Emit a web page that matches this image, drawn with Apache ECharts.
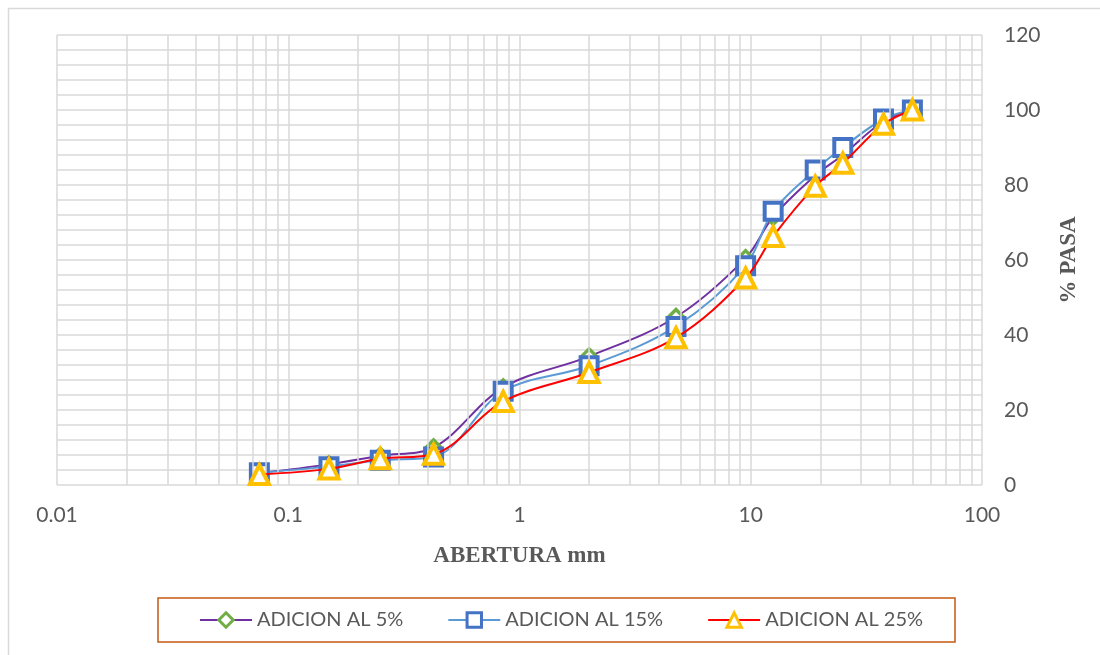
<!DOCTYPE html>
<html><head><meta charset="utf-8">
<script src="https://cdn.jsdelivr.net/npm/echarts@6/dist/echarts.min.js"></script>
<style>html,body{margin:0;padding:0;background:#fff}#c{width:1100px;height:655px}</style>
</head><body><div id="c"></div>
<script>
const sizes = [0.075, 0.15, 0.25, 0.425, 0.85, 2, 4.75, 9.5, 12.5, 19, 25, 37.5, 50];
const add5  = [3.2, 5.5, 7.8, 10, 26, 34.3, 44.8, 60.5, 71.5, 82.5, 88, 97, 100];
const add15 = [3.3, 4.9, 6.6, 7.5, 25, 31.8, 42.3, 58.5, 73, 84, 90, 97.6, 100];
const add25 = [2.8, 4.3, 7, 8.2, 22.3, 30, 39.3, 55.2, 66.3, 79.7, 85.8, 96.2, 100];
const seriesNames = ['ADICION AL 5%', 'ADICION AL 15%', 'ADICION AL 25%'];
const minorX = [];
[0.01, 0.1, 1, 10].forEach(d => { for (let k = 2; k <= 9; k++) minorX.push(+(d * k).toPrecision(3)); });

const pairs = ys => sizes.map((x, i) => [x, ys[i]]);
const gridColor = '#d9d9d9';
const txt = '#595959';

const chart = echarts.init(document.getElementById('c'), null, {renderer: 'canvas'});
chart.setOption({
  animation: false,
  backgroundColor: '#fff',
  graphic: [{type: 'rect', left: 6, top: 6, shape: {x: 0, y: 0, width: 1200, height: 700},
    style: {fill: 'none', stroke: '#d9d9d9', lineWidth: 1.5}, silent: true, z: -10}],
  grid: {left: 57, right: 118, top: 35, bottom: 170},
  legend: {
    data: seriesNames, left: 158, top: 598,
    borderColor: '#c55a11', borderWidth: 1.5, borderRadius: 0,
    padding: [12, 32, 12, 41], itemGap: 44, itemWidth: 52, itemHeight: 18,
    itemStyle: {borderWidth: 3},
    textStyle: {fontFamily: 'Lato', fontSize: 20, color: txt, padding: [0, 0, 0, 0]}
  },
  xAxis: {
    type: 'log', logBase: 10, min: 0.01, max: 100,
    name: 'ABERTURA mm', nameLocation: 'middle', nameGap: 60,
    nameTextStyle: {fontFamily: 'Liberation Serif', fontWeight: 'bold', fontSize: 23, color: txt},
    axisLine: {show: false}, axisTick: {show: false},
    axisLabel: {fontFamily: 'Lato', fontSize: 21, color: txt, margin: 20,
      formatter: v => String(+Number(v).toPrecision(3))},
    splitLine: {show: true, lineStyle: {color: gridColor, width: 1.5}}
  },
  yAxis: {
    type: 'value', position: 'right', min: 0, max: 120, interval: 4,
    name: '% PASA', nameLocation: 'middle', nameGap: 76, nameRotate: 90,
    nameTextStyle: {fontFamily: 'Liberation Serif', fontWeight: 'bold', fontSize: 23, color: txt},
    axisLine: {show: false}, axisTick: {show: false},
    axisLabel: {fontFamily: 'Lato', fontSize: 21, color: txt, margin: 22,
      formatter: v => (v % 20 === 0 ? String(v) : '')},
    splitLine: {show: true, lineStyle: {color: gridColor, width: 1.5}}
  },
  series: [
    {type: 'line', name: '_grid', data: [], z: 0, silent: true,
      markLine: {silent: true, symbol: 'none', label: {show: false}, animation: false,
        lineStyle: {color: gridColor, width: 1.5, type: 'solid'},
        emphasis: {disabled: true},
        data: minorX.map(v => ({xAxis: v}))}},
    {type: 'line', name: seriesNames[0], data: pairs(add5), smooth: 0.35,
      lineStyle: {color: '#7030a0', width: 2}, itemStyle: {color: '#fff', borderColor: '#70ad47', borderWidth: 3.5},
      symbol: 'diamond', symbolSize: 15, z: 3},
    {type: 'line', name: seriesNames[1], data: pairs(add15), smooth: 0.35,
      lineStyle: {color: '#5b9bd5', width: 2}, itemStyle: {color: '#fff', borderColor: '#4472c4', borderWidth: 4},
      symbol: 'rect', symbolSize: 17, z: 4},
    {type: 'line', name: seriesNames[2], data: pairs(add25), smooth: 0.35,
      lineStyle: {color: '#ff0000', width: 2}, itemStyle: {color: '#fff', borderColor: '#ffc000', borderWidth: 4},
      symbol: 'triangle', symbolSize: 19, z: 5}
  ]
});
</script></body></html>
